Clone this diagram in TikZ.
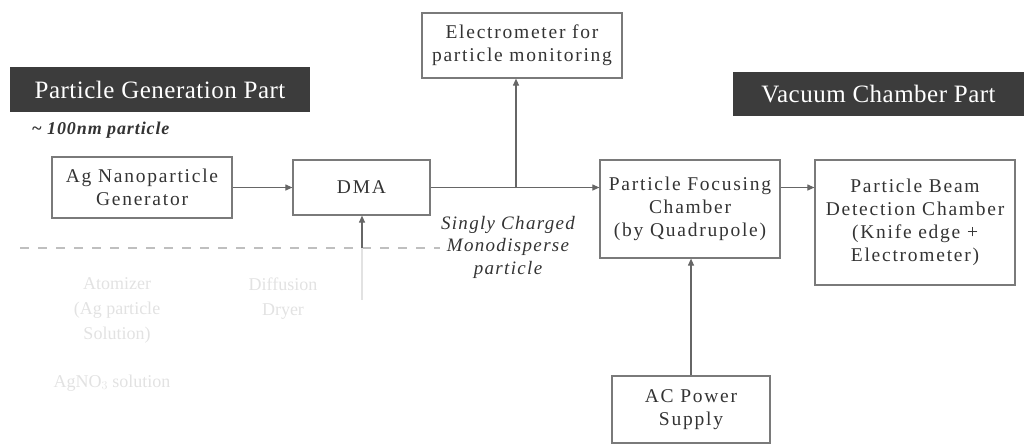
\documentclass[tikz,border=0pt]{standalone}
\usepackage{fontspec}
\setmainfont{Liberation Serif}
\usetikzlibrary{arrows.meta}
\definecolor{boxline}{HTML}{7A7A7A}
\definecolor{titlefill}{HTML}{3C3C3C}
\definecolor{faded}{HTML}{E2E2E2}
\begin{document}
\begin{tikzpicture}[x=1pt,y=-1pt,
  box/.style={draw=boxline, line width=1.2pt, align=center, inner sep=0pt,
    font=\fontsize{19.5}{23}\selectfont\addfontfeature{LetterSpace=9}, text=black!80},
  titlebox/.style={fill=titlefill, text=white, inner sep=0pt,
    font=\fontsize{25}{27}\selectfont\addfontfeature{LetterSpace=2}},
  conn/.style={draw=black!60, line width=1.1pt},
  arr/.style={conn, -{Triangle[length=7pt,width=6pt]}},
  fadedtext/.style={text=faded, align=center, font=\fontsize{18}{25}\selectfont}
]
\useasboundingbox (0,0) rectangle (1024,445);

% title bars
\node[titlebox, minimum width=300pt, minimum height=45pt] (gentitle) at (160,89.5) {Particle Generation Part};
\node[titlebox, minimum width=291pt, minimum height=44pt] (vactitle) at (878.5,94) {Vacuum Chamber Part};

\node[anchor=west, text=black!80, font=\fontsize{18}{20}\selectfont\itshape\bfseries\addfontfeature{LetterSpace=5}] (size) at (28,130) {\textasciitilde{} 100nm particle};

% boxes
\node[box, minimum width=180pt, minimum height=61pt] (ag) at (142,187.5) {Ag Nanoparticle\\Generator};
\node[box, minimum width=137pt, minimum height=55pt] (dma) at (361.5,187.5) {DMA};
\node[box, minimum width=200pt, minimum height=65pt] (elec) at (522,45.5) {Electrometer for\\particle monitoring};
\node[box, minimum width=180pt, minimum height=98pt] (foc) at (690,209) {Particle Focusing\\Chamber\\(by Quadrupole)};
\node[box, minimum width=200pt, minimum height=125pt] (beam) at (915,222.5) {Particle Beam\\Detection Chamber\\(Knife edge +\\Electrometer)};
\node[box, minimum width=158pt, minimum height=67pt] (ac) at (691,409.5) {AC Power\\Supply};

\node[align=center, text=black!80, font=\fontsize{19}{22.5}\selectfont\itshape\addfontfeature{LetterSpace=7}] (singly) at (508,247) {Singly Charged\\Monodisperse\\particle};

% faded lower part
\draw[draw=black!25, line width=1.2pt, dash pattern=on 9pt off 9pt] (20,248) -- (440,248);
\node[fadedtext] (atom) at (117,310) {Atomizer\\(Ag particle\\Solution)};
\node[fadedtext] (dryer) at (283,299) {Diffusion\\Dryer};
\node[fadedtext, anchor=west] (agno) at (50,383) {AgNO$_3$ solution};
\draw[draw=faded, line width=1.2pt] (362,300) -- (362,248);

% connectors
\draw[arr] (ag.east) -- (dma.west);
\coordinate (j) at (516,188);
\draw[arr] (dma.east) -- (dma.east -| foc.west);
\draw[arr] (j) -- (j |- elec.south);
\coordinate (dmain) at (362,248);
\draw[arr] (dmain) -- (dmain |- dma.south);
\draw[arr] (foc.east |- dma.east) -- (beam.west |- dma.east);
\draw[arr] (ac.north) -- (ac.north |- foc.south);
\end{tikzpicture}
\end{document}
